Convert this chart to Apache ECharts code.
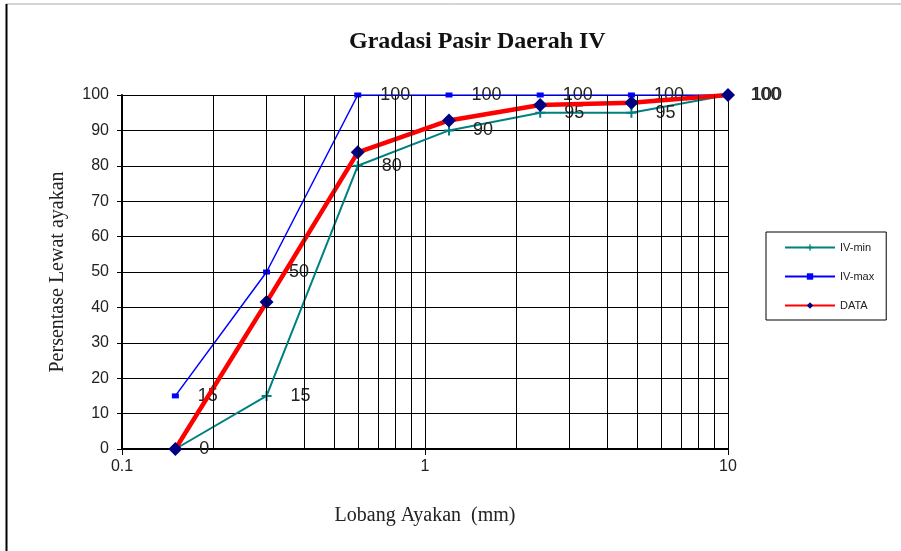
<!DOCTYPE html>
<html>
<head>
<meta charset="utf-8">
<script src="https://cdn.jsdelivr.net/npm/echarts@6/dist/echarts.min.js"></script>
<style>
  html, body { margin: 0; padding: 0; background: #fff; }
  #main { width: 901px; height: 551px; }
</style>
</head>
<body>
<div id="main"></div>
<script>
// ukuran ayakan (mm)
var sieve = [0.15, 0.3, 0.6, 1.2, 2.4, 4.8, 10];
var ivMin = [0, 15, 80, 90, 95, 95, 100];
var ivMax = [15, 50, 100, 100, 100, 100, 100];
var dataPasir = [0, 41.5, 83.8, 92.8, 97.2, 97.8, 100];
// garis grid log (minor)
var logGrid = [0.2, 0.3, 0.4, 0.5, 0.6, 0.7, 0.8, 0.9, 2, 3, 4, 5, 6, 7, 8, 9];

function pairs(ys) {
    return sieve.map(function (x, i) { return [x, ys[i]]; });
}

var myChart = echarts.init(document.getElementById('main'));
var lblStyle = {
    show: true,
    position: 'right',
    distance: 19,
    fontFamily: 'Liberation Sans',
    fontSize: 18,
    color: '#222'
};

option = {
    animation: false,
    backgroundColor: '#fff',
    title: {
        text: 'Gradasi Pasir Daerah IV',
        left: 344,
        top: 25,
        textStyle: {
            fontFamily: 'Liberation Serif',
            fontSize: 24,
            fontWeight: 'bold',
            color: '#111'
        }
    },
    legend: {
        orient: 'vertical',
        left: 766,
        top: 232,
        data: ['IV-min', 'IV-max', 'DATA'],
        itemWidth: 50,
        itemHeight: 8,
        itemGap: 18,
        padding: [10, 12, 9, 18],
        borderColor: '#000',
        borderWidth: 1,
        borderRadius: 0,
        textStyle: {
            fontFamily: 'Liberation Sans',
            fontSize: 11,
            color: '#222'
        }
    },
    grid: {
        left: 122,
        right: 173,
        top: 95,
        bottom: 102
    },
    xAxis: {
        type: 'log',
        logBase: 10,
        min: 0.1,
        max: 10,
        name: 'Lobang Ayakan  (mm)',
        nameLocation: 'middle',
        nameGap: 57,
        nameTextStyle: {
            fontFamily: 'Liberation Serif',
            fontSize: 20,
            color: '#222'
        },
        axisLine: { lineStyle: { color: '#000', width: 2 } },
        axisTick: { show: true, length: 6, lineStyle: { color: '#000', width: 1 } },
        axisLabel: {
            fontFamily: 'Liberation Sans',
            fontSize: 16,
            color: '#222',
            margin: 10
        },
        splitLine: { show: true, lineStyle: { color: '#000', width: 1 } }
    },
    yAxis: {
        type: 'value',
        min: 0,
        max: 100,
        interval: 10,
        name: 'Persentase Lewat ayakan',
        nameLocation: 'middle',
        nameGap: 54,
        nameRotate: 90,
        nameTextStyle: {
            fontFamily: 'Liberation Serif',
            fontSize: 20,
            color: '#222'
        },
        axisLine: { show: true, lineStyle: { color: '#000', width: 2 } },
        axisTick: { show: true, length: 5, lineStyle: { color: '#000' } },
        axisLabel: {
            fontFamily: 'Liberation Sans',
            fontSize: 16,
            color: '#222',
            margin: 13
        },
        splitLine: { show: true, lineStyle: { color: '#000', width: 1 } }
    },
    graphic: [
        { type: 'line', shape: { x1: 6, y1: 4, x2: 901, y2: 4 }, style: { stroke: '#aaa', lineWidth: 1 } },
        { type: 'line', shape: { x1: 6.5, y1: 4, x2: 6.5, y2: 551 }, style: { stroke: '#000', lineWidth: 2 } }
    ],
    series: [
        {
            name: 'grid',
            type: 'line',
            data: [],
            z: 1,
            silent: true,
            markLine: {
                silent: true,
                symbol: 'none',
                label: { show: false },
                lineStyle: { color: '#000', width: 1, type: 'solid' },
                data: logGrid.map(function (v) { return { xAxis: v }; })
            }
        },
        {
            name: 'IV-min',
            type: 'line',
            data: pairs(ivMin),
            z: 3,
            color: '#008080',
            lineStyle: { color: '#008080', width: 2 },
            symbol: 'path://M4,0H6V4H10V6H6V10H4V6H0V4H4Z',
            symbolSize: 10,
            itemStyle: { color: '#008080' },
            label: lblStyle
        },
        {
            name: 'IV-max',
            type: 'line',
            data: pairs(ivMax),
            z: 3,
            color: '#0000ff',
            lineStyle: { color: '#0000ff', width: 1.5 },
            symbol: 'rect',
            symbolSize: [7, 5],
            itemStyle: { color: '#0000ff' },
            label: lblStyle
        },
        {
            name: 'DATA',
            type: 'line',
            data: pairs(dataPasir),
            z: 4,
            color: '#ff0000',
            lineStyle: { color: '#ff0000', width: 4.5 },
            symbol: 'diamond',
            symbolSize: 14,
            itemStyle: { color: '#000080' }
        }
    ]
};
myChart.setOption(option);
</script>
</body>
</html>
